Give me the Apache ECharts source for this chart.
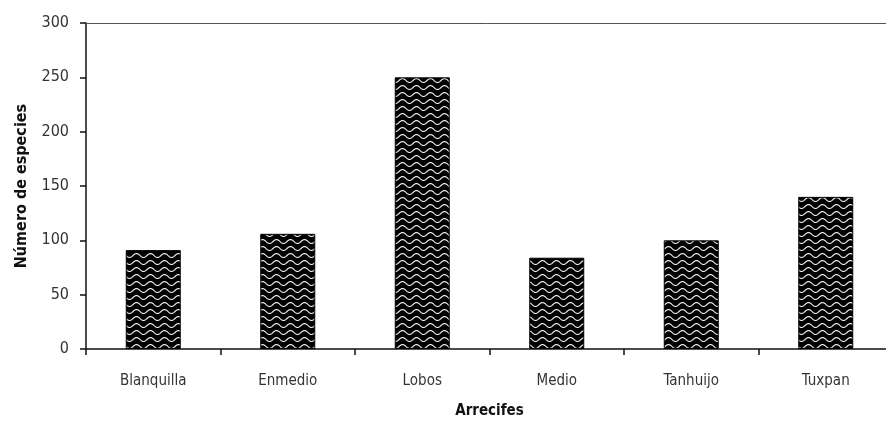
<!DOCTYPE html>
<html>
<head>
<meta charset="utf-8">
<script src="https://cdn.jsdelivr.net/npm/echarts@6/dist/echarts.min.js"></script>
<style>
  html, body { margin: 0; padding: 0; background: #fff; }
  #chart { width: 886px; height: 423px; }
</style>
</head>
<body>
<div id="chart"></div>
<script>
// Species count per reef
const reefs = ['Blanquilla', 'Enmedio', 'Lobos', 'Medio', 'Tanhuijo', 'Tuxpan'];
const speciesCount = [91, 106, 250, 84, 100, 140];
const yTicks = [0, 50, 100, 150, 200, 250, 300];

const FONT = '"DejaVu Sans Condensed", "Liberation Sans Narrow", "Arial Narrow", sans-serif';

// Black fill crossed by white wavy lines
function wavePattern() {
  const w = 14, h = 7;
  const c = document.createElement('canvas');
  c.width = w; c.height = h;
  const g = c.getContext('2d');
  g.fillStyle = '#000';
  g.fillRect(0, 0, w, h);
  g.strokeStyle = '#f0f0f0';
  g.lineWidth = 1.2;
  g.beginPath();
  for (let x = 0; x <= w; x += 0.5) {
    const y = 3.5 + 2 * Math.sin((x / w) * Math.PI * 2);
    if (x === 0) g.moveTo(x, y); else g.lineTo(x, y);
  }
  g.stroke();
  return c;
}

const chart = echarts.init(document.getElementById('chart'), null, { renderer: 'canvas' });
chart.setOption({
  animation: false,
  backgroundColor: '#fff',
  grid: { left: 86, right: -7, top: 23, bottom: 74, containLabel: false, outerBoundsMode: 'none' },
  xAxis: [{
    type: 'category',
    data: reefs,
    name: 'Arrecifes',
    nameLocation: 'middle',
    nameGap: 55,
    nameTextStyle: { fontFamily: FONT, fontWeight: 'bold', fontSize: 15, color: '#111' },
    axisLine: { lineStyle: { color: '#111', width: 1.5 } },
    axisTick: { show: true, alignWithLabel: false, length: 6, lineStyle: { color: '#111', width: 1.5 } },
    axisLabel: { fontFamily: FONT, fontSize: 15, color: '#333', margin: 25 },
    splitLine: { show: false }
  }, {
    type: 'category',
    data: reefs,
    position: 'top',
    axisLine: { show: true, lineStyle: { color: '#555', width: 1 } },
    axisTick: { show: false },
    axisLabel: { show: false }
  }],
  yAxis: {
    type: 'value',
    min: yTicks[0],
    max: yTicks[yTicks.length - 1],
    interval: 50,
    name: 'Número de especies',
    nameLocation: 'middle',
    nameGap: 56,
    nameRotate: 90,
    nameTextStyle: { fontFamily: FONT, fontWeight: 'bold', fontSize: 16, color: '#111' },
    axisLine: { show: true, lineStyle: { color: '#111', width: 1.5 } },
    axisTick: { show: true, length: 6, lineStyle: { color: '#111', width: 1.5 } },
    axisLabel: { fontFamily: FONT, fontSize: 16, color: '#333', margin: 17 },
    splitLine: { show: false }
  },
  series: [{
    type: 'bar',
    data: speciesCount,
    barWidth: 55,
    itemStyle: {
      color: { image: wavePattern(), repeat: 'repeat' },
      borderColor: '#000',
      borderWidth: 1
    }
  }]
});
</script>
</body>
</html>
